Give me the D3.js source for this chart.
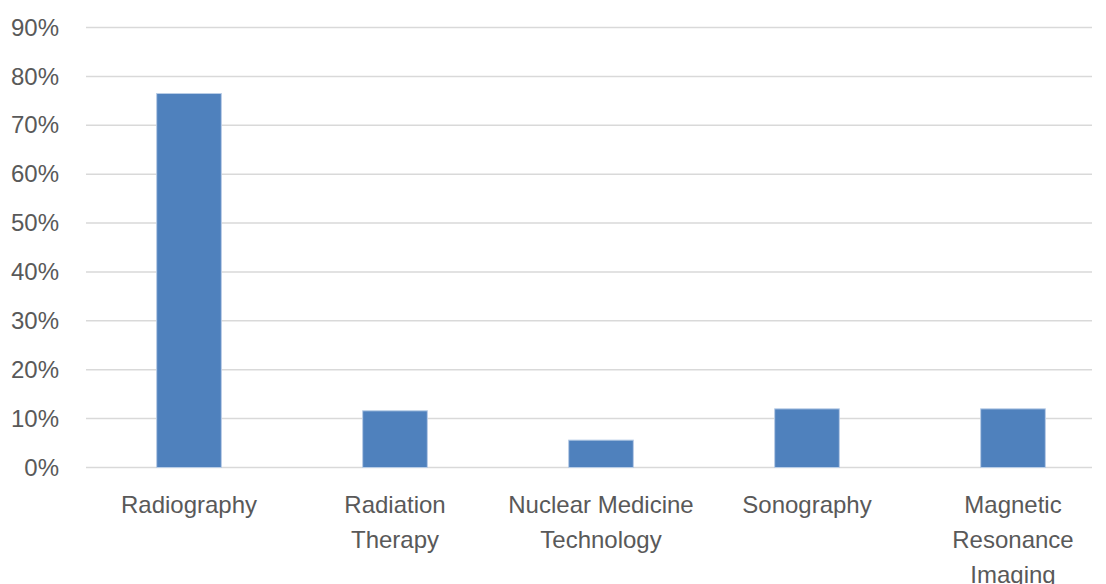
<!DOCTYPE html>
<html>
<head>
<meta charset="utf-8">
<script src="https://cdn.jsdelivr.net/npm/d3@7"></script>
<style>
  body { margin: 0; background: #fff; }
  svg text { font-family: "Liberation Sans", Arial, sans-serif; fill: #595959; }
</style>
</head>
<body>
<svg id="chart"></svg>
<script>
// chart data
const categories = ['Radiography', 'Radiation Therapy', 'Nuclear Medicine Technology', 'Sonography', 'Magnetic Resonance Imaging'];
const categoryLines = [
  ['Radiography'],
  ['Radiation', 'Therapy'],
  ['Nuclear Medicine', 'Technology'],
  ['Sonography'],
  ['Magnetic', 'Resonance', 'Imaging']
];
const shares = [0.765, 0.116, 0.056, 0.120, 0.120];
const yTicks = [0, 0.1, 0.2, 0.3, 0.4, 0.5, 0.6, 0.7, 0.8, 0.9];

const width = 1106, height = 584;

const svg = d3.select('#chart')
  .attr('width', width)
  .attr('height', height);

const x = d3.scaleBand()
  .domain(categories)
  .range([86, 1116])
  .paddingInner(0.686)
  .paddingOuter(0.343);

const y = d3.scaleLinear()
  .domain([0, 0.9])
  .range([467.5, 27.5]);

// gridlines
svg.append('g')
  .selectAll('line')
  .data(yTicks)
  .join('line')
  .attr('x1', 86)
  .attr('x2', 1092)
  .attr('y1', d => y(d))
  .attr('y2', d => y(d))
  .style('stroke', '#d9d9d9')
  .style('stroke-width', 1.5);

// y axis labels
const yAxis = d3.axisLeft(y)
  .tickValues(yTicks)
  .tickFormat(d3.format('.0%'))
  .tickSize(0)
  .tickPadding(0);

const yg = svg.append('g')
  .attr('transform', 'translate(59,0)')
  .call(yAxis);
yg.select('.domain').remove();
yg.selectAll('text')
  .style('font-size', '24px')
  .style('fill', '#595959');

// bars
svg.append('g')
  .selectAll('rect')
  .data(shares)
  .join('rect')
  .attr('x', (d, i) => x(categories[i]))
  .attr('y', d => y(d))
  .attr('width', x.bandwidth())
  .attr('height', d => y(0) - y(d))
  .style('fill', '#4f81bd')
  .style('stroke', '#b9cde6')
  .style('stroke-width', 1);

// category labels
const labels = svg.append('g')
  .selectAll('text')
  .data(categories)
  .join('text')
  .attr('text-anchor', 'middle')
  .style('font-size', '24px')
  .attr('x', d => x(d) + x.bandwidth() / 2)
  .attr('y', 513);

labels.selectAll('tspan')
  .data((d, i) => categoryLines[i])
  .join('tspan')
  .attr('x', function() { return this.parentNode.getAttribute('x'); })
  .attr('dy', (d, i) => i === 0 ? 0 : 35)
  .text(d => d);
</script>
</body>
</html>
